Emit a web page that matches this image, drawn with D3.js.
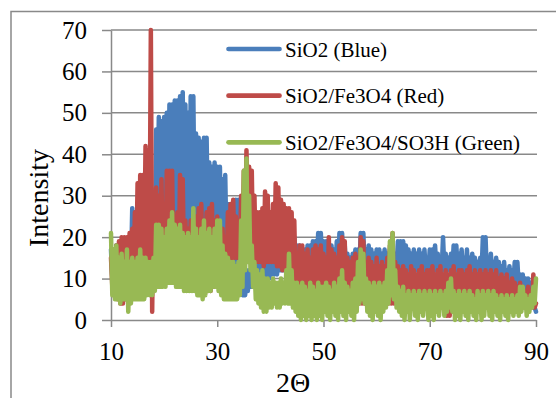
<!DOCTYPE html>
<html>
<head>
<meta charset="utf-8">
<script src="https://cdn.jsdelivr.net/npm/d3@7"></script>
<style>
  body { margin: 0; background: #fff; }
  svg text { font-family: "Liberation Serif", "Times New Roman", serif; fill: #000; }
</style>
</head>
<body>
<svg id="chart" width="556" height="398"></svg>
<script>
// 2-theta grid: first angle and step, one reading per step in each series
var thetaStart = 10, thetaStep = 0.25;

var seriesNames = ["SiO2 (Blue)", "SiO2/Fe3O4 (Red)", "SiO2/Fe3O4/SO3H (Green)"];
var seriesColors = ["#4a7ebb", "#be4b48", "#98b954"];

// one row = 5 degrees
var sio2 = [
  17,10, 16,10, 18,9, 14,9, 15,9, 14,10, 16,10, 18,11, 27,12, 26,12,
  25,13, 24,13, 24,14, 22,14, 22,15, 20,15, 22,16, 46,20, 49,20, 48,21,
  49,21, 50,22, 52,22, 52,22, 53,23, 53,23, 54,23, 55,23, 52,22, 50,22,
  54,22, 54,22, 45,21, 44,21, 43,21, 44,21, 44,20, 38,20, 37,20, 38,20,
  37,19, 37,19, 34,18, 35,17, 28,16, 27,15, 27,14, 29,13, 29,10, 14,6,
  9,6, 12,7, 12,8, 14,8, 13,9, 14,9, 13,10, 14,10, 14,10, 13,10,
  15,11, 15,11, 16,11, 16,12, 17,12, 17,12, 18,12, 19,12, 20,12, 20,12,
  18,12, 18,12, 17,12, 17,12, 18,12, 18,12, 19,13, 19,13, 21,13, 21,13,
  19,13, 19,13, 18,13, 18,12, 17,12, 19,12, 21,12, 21,12, 18,12, 16,12,
  15,12, 16,12, 17,12, 17,12, 21,12, 21,12, 17,12, 18,12, 17,12, 16,12,
  17,12, 17,12, 16,12, 17,12, 16,12, 17,12, 15,12, 16,12, 19,12, 19,12,
  19,12, 18,12, 17,12, 16,12, 17,12, 16,12, 17,12, 16,12, 17,12, 15,12,
  17,12, 17,12, 18,12, 16,12, 15,12, 20,12, 16,12, 15,12, 16,12, 18,12,
  18,12, 16,11, 17,11, 15,11, 17,11, 15,11, 16,11, 15,11, 14,11, 15,11,
  20,11, 20,11, 15,11, 16,11, 14,10, 15,10, 14,10, 13,10, 14,9, 12,9,
  13,9, 12,9, 14,8, 14,8, 11,7, 11,7, 10,6, 10,6, 9,5, 9,3,
  2
];

var sio2fe = [
  15,8, 17,6, 18,5, 19,4, 20,4, 20,5, 20,6, 21,8, 22,10, 26,12,
  33,12, 35,13, 35,14, 42,15, 41,15, 70,2, 30,12, 32,12, 30,12, 34,13,
  26,13, 36,12, 36,12, 36,13, 25,12, 26,12, 35,11, 34,11, 24,10, 22,10,
  24,10, 22,9, 25,9, 27,8, 28,9, 22,8, 26,7, 27,7, 28,8, 24,9,
  25,10, 22,10, 22,11, 20,12, 26,13, 28,14, 29,15, 25,15, 24,16, 30,18,
  36,20, 41,22, 37,16, 36,15, 30,14, 26,14, 26,14, 27,13, 31,14, 30,14,
  26,14, 28,14, 33,13, 32,13, 29,12, 28,12, 27,12, 27,11, 26,10, 24,8,
  16,6, 18,6, 18,5, 16,5, 17,5, 15,5, 17,5, 18,5, 17,5, 18,5,
  16,5, 15,5, 20,5, 17,5, 16,5, 15,5, 18,5, 20,5, 19,5, 15,4,
  14,4, 15,4, 16,4, 15,4, 20,4, 19,4, 14,4, 15,4, 14,4, 13,4,
  15,4, 13,4, 14,4, 13,4, 15,4, 18,4, 21,4, 14,4, 13,5, 12,5,
  13,5, 12,5, 11,5, 13,5, 12,5, 11,5, 12,5, 13,5, 11,5, 12,5,
  12,5, 13,5, 11,5, 12,5, 13,4, 11,3, 12,1, 11,1, 12,4, 13,5,
  11,5, 12,5, 12,5, 11,5, 12,5, 13,5, 11,5, 12,5, 11,5, 12,5,
  11,5, 12,5, 11,5, 12,5, 11,5, 12,4, 10,4, 11,4, 10,4, 11,4,
  9,4, 10,4, 9,4, 8,4, 9,4, 8,3, 7,3, 8,3, 7,3, 11,3,
  4
];

var sio2feso3h = [
  21,6, 17,5, 18,5, 15,4, 16,5, 14,5, 17,2, 14,4, 15,5, 14,5,
  15,5, 17,5, 15,5, 15,6, 14,6, 14,6, 15,7, 23,8, 23,8, 22,8,
  20,8, 22,9, 24,9, 26,9, 23,8, 22,8, 23,8, 21,7, 20,7, 21,7,
  20,7, 27,7, 22,6, 20,6, 22,5, 24,6, 21,7, 22,7, 20,8, 22,8,
  24,7, 24,6, 18,5, 16,5, 15,5, 14,5, 14,5, 13,5, 14,6, 24,8,
  36,12, 39,14, 30,12, 18,8, 14,5, 12,4, 11,3, 12,2, 10,2, 10,3,
  9,3, 10,4, 9,3, 9,3, 10,4, 9,4, 12,4, 16,4, 12,3, 9,2,
  9,1, 8,0, 9,1, 8,0, 7,1, 9,0, 8,1, 7,0, 9,1, 8,0,
  8,2, 9,1, 8,0, 7,2, 9,1, 8,0, 10,2, 12,1, 9,0, 8,2,
  7,1, 9,0, 10,2, 14,4, 17,5, 16,4, 10,2, 9,1, 8,0, 9,2,
  8,1, 9,0, 8,2, 9,3, 12,4, 19,6, 21,5, 12,3, 8,2, 7,1,
  8,0, 6,2, 7,0, 6,3, 7,1, 6,0, 7,2, 6,1, 7,3, 6,0,
  7,1, 6,0, 7,2, 6,1, 7,3, 6,1, 7,2, 9,3, 10,2, 7,0,
  6,1, 7,0, 6,2, 7,1, 6,0, 7,2, 6,1, 5,0, 7,2, 6,0,
  7,1, 6,3, 7,1, 6,0, 7,2, 6,1, 5,0, 6,2, 5,1, 6,0,
  5,2, 6,1, 5,2, 6,1, 8,2, 8,3, 6,1, 5,2, 6,3, 8,4,
  10
];

var xTicks = [10, 30, 50, 70, 90];
var yTicks = [0, 10, 20, 30, 40, 50, 60, 70];

var svg = d3.select("#chart");
var gray = "#898989";

// outer chart frame (only its left and top edges fall inside the picture)
svg.append("rect")
  .attr("x", 11).attr("y", 11.5)
  .attr("width", 700).attr("height", 600)
  .attr("fill", "none")
  .attr("stroke", gray)
  .attr("stroke-width", 1.5);

var x = d3.scaleLinear().domain([10, 90]).range([111, 536]);
var y = d3.scaleLinear().domain([0, 70]).range([320, 30]);

// gridlines
svg.append("g")
  .selectAll("line")
  .data(yTicks.slice(1))
  .join("line")
  .attr("x1", 111).attr("x2", 537)
  .attr("y1", d => y(d)).attr("y2", d => y(d))
  .attr("stroke", gray)
  .attr("stroke-width", 1.5);

var yAxis = svg.append("g")
  .attr("transform", "translate(111,0)")
  .call(d3.axisLeft(y).tickValues(yTicks).tickSize(9).tickSizeOuter(0).tickPadding(15));

var xAxis = svg.append("g")
  .attr("transform", "translate(0,320)")
  .call(d3.axisBottom(x).tickValues(xTicks).tickSize(7).tickSizeOuter(0).tickPadding(15));

[yAxis, xAxis].forEach(function(ax){
  ax.attr("font-family", null);
  ax.select(".domain").attr("stroke", gray).attr("stroke-width", 1.5);
  ax.selectAll(".tick line").attr("stroke", gray).attr("stroke-width", 1.5);
  ax.selectAll(".tick text")
    .attr("fill", "#000")
    .style("font-size", "25px");
});

// series, blue first so green ends on top
var line = d3.line()
  .x((d, i) => x(thetaStart + i * thetaStep))
  .y(d => y(d));

var allSeries = [sio2, sio2fe, sio2feso3h];
svg.append("g")
  .selectAll("path")
  .data(allSeries)
  .join("path")
  .attr("d", d => line(d))
  .attr("fill", "none")
  .attr("stroke", (d, i) => seriesColors[i])
  .attr("stroke-width", 4.5)
  .attr("stroke-linejoin", "round")
  .attr("stroke-linecap", "round");

// legend
var legendY = [49, 95.7, 142.3];
var legend = svg.append("g")
  .selectAll("g")
  .data(seriesNames)
  .join("g")
  .attr("transform", (d, i) => "translate(0," + legendY[i] + ")");
legend.append("line")
  .attr("x1", 228.5).attr("x2", 279.5)
  .attr("stroke", (d, i) => seriesColors[i])
  .attr("stroke-width", 4.7)
  .attr("stroke-linecap", "round");
legend.append("text")
  .attr("x", 285).attr("y", 7.5)
  .style("font-size", "21px")
  .text(d => d);

// axis titles
svg.append("text")
  .attr("transform", "translate(48,198) rotate(-90)")
  .attr("text-anchor", "middle")
  .style("font-size", "28px")
  .text("Intensity");

svg.append("text")
  .attr("x", 293).attr("y", 392)
  .attr("text-anchor", "middle")
  .style("font-size", "28px")
  .text("2Θ");
</script>
</body>
</html>
